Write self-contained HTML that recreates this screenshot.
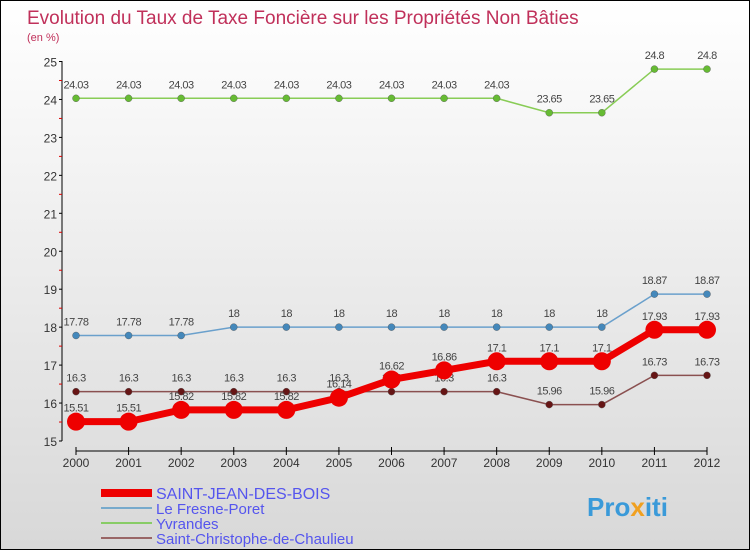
<!DOCTYPE html>
<html><head><meta charset="utf-8"><style>
body{margin:0}
#c{width:750px;height:550px;position:relative;box-sizing:border-box;border:1px solid #000;background:linear-gradient(#fff,#d8d8d8);font-family:"Liberation Sans",sans-serif;overflow:hidden}
svg{position:absolute;left:0;top:0}
</style></head><body>
<div id="c">
<svg id="s" width="750" height="550">
<text x="26" y="23" font-size="19" fill="#c0305a">Evolution du Taux de Taxe Foncière sur les Propriétés Non Bâties</text>
<text x="26" y="40" font-size="11" fill="#c0305a">(en %)</text>
<text x="586" y="515" font-size="26" font-weight="bold" fill="#3a9ad9">Pro<tspan fill="#f0a020">x</tspan>iti</text>
</svg>
</div>
<script>
const years=[2000,2001,2002,2003,2004,2005,2006,2007,2008,2009,2010,2011,2012];
const yTicks=[15,16,17,18,19,20,21,22,23,24,25];
const names=["SAINT-JEAN-DES-BOIS","Le Fresne-Poret","Yvrandes","Saint-Christophe-de-Chaulieu"];
const sSaint=[15.51,15.51,15.82,15.82,15.82,16.14,16.62,16.86,17.1,17.1,17.1,17.93,17.93];
const sFresne=[17.78,17.78,17.78,18,18,18,18,18,18,18,18,18.87,18.87];
const sYvr=[24.03,24.03,24.03,24.03,24.03,24.03,24.03,24.03,24.03,23.65,23.65,24.8,24.8];
const sChr=[16.3,16.3,16.3,16.3,16.3,16.3,16.3,16.3,16.3,15.96,15.96,16.73,16.73];
const svg=document.getElementById('s');const NS='http://www.w3.org/2000/svg';
const X=i=>75+i*(706-75)/(years.length-1);
const Y=v=>440-(v-15)*37.95;
function mk(t,a,p){const e=document.createElementNS(NS,t);for(const k in a)e.setAttribute(k,a[k]);(p||svg).appendChild(e);return e;}
// axes
let ax=mk('line',{x1:61,y1:60,x2:61,y2:440,stroke:'#000'});


yTicks.forEach(v=>{mk('line',{x1:58,x2:61,y1:Y(v),y2:Y(v),stroke:'#000'});
if(v<25)mk('line',{x1:58,x2:61,y1:Y(v+0.5),y2:Y(v+0.5),stroke:'#d00'});
const t=mk('text',{x:56,y:Y(v)+5,'text-anchor':'end','font-size':12,fill:'#333'});t.textContent=v;

});
let xa=mk('line',{x1:75,y1:450,x2:706,y2:450,stroke:'#000'});


years.forEach((y,i)=>{mk('line',{x1:X(i),x2:X(i),y1:446,y2:454,stroke:'#000'});
const t=mk('text',{x:X(i),y:466,'text-anchor':'middle','font-size':12,fill:'#333'});t.textContent=y;

});
const series=[[sYvr,'#88cc55','#66bb33',1.5,3.5,'yvrandes'],[sFresne,'#6aa0cc','#4488bb',1.5,3.5,'le-fresne-poret'],[sChr,'#8a5050','#661515',1.5,3.5,'saint-christophe'],[sSaint,'#ee0000','#ee0000',7,9,'saint-jean-des-bois']];
series.forEach(([d,lc,pc,w,r,n])=>{
const g=mk('g',{});


mk('polyline',{points:d.map((v,i)=>X(i)+','+Y(v)).join(' '),fill:'none',stroke:lc,'stroke-width':w},g);
d.forEach((v,i)=>{const c=mk('circle',{cx:X(i),cy:Y(v),r:r,fill:pc,stroke:w>2?'none':'#555','stroke-width':0.4},g);


const t=mk('text',{x:X(i),y:Y(v)-10,'text-anchor':'middle','font-size':11,fill:'#444','letter-spacing':'-0.5'},g);t.textContent=v;

});});
const lc=[['#ee0000',8],['#77aacc',2],['#88cc66',2],['#996666',2]];
names.forEach((n,i)=>{const y=492+i*15;
const g=mk('g',{});


mk('line',{x1:100,x2:151,y1:y,y2:y,stroke:lc[i][0],'stroke-width':lc[i][1]},g);
const t=mk('text',{x:155,y:y+6,'font-size':i==0?16:15,fill:'#5555ee'},g);t.textContent=n;});
</script>
</body></html>
